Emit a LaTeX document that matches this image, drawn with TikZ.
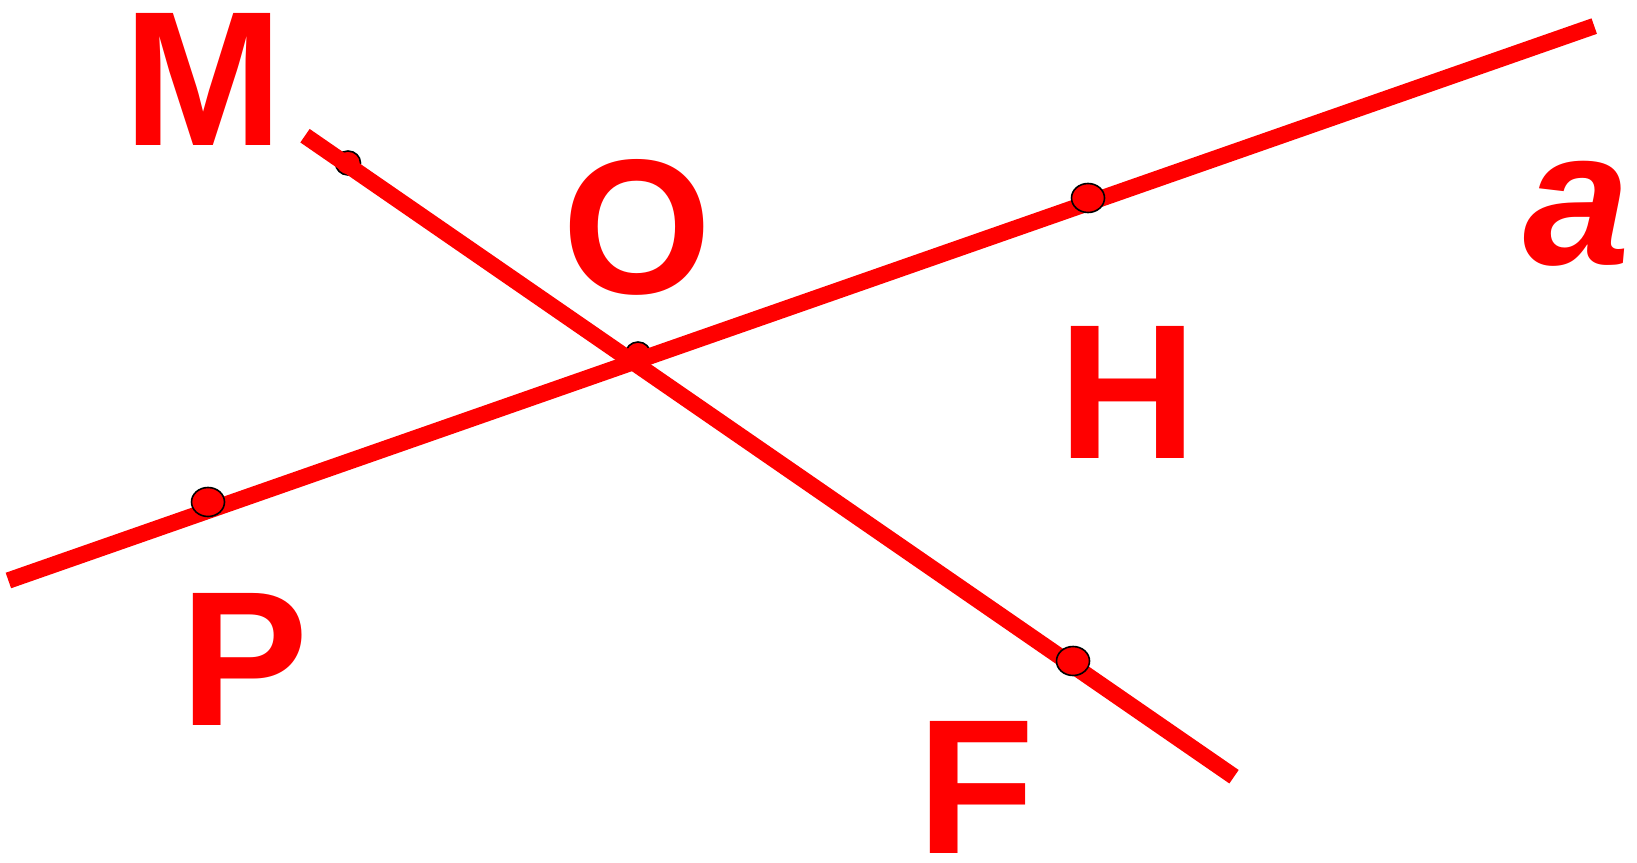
\documentclass[tikz,border=0pt]{standalone}
\usepackage{fontspec}
\setmainfont{Liberation Sans}
\usetikzlibrary{shapes.geometric}
\begin{document}
\begin{tikzpicture}[x=0.5pt,y=-0.5pt,
  redline/.style={draw=red,line width=8.2pt},
  pt/.style={ellipse,draw=black,fill=red,line width=0.8pt,minimum width=16.5pt,minimum height=14.5pt,inner sep=0pt},
  smallpt/.style={ellipse,draw=black,fill=red,line width=0.8pt,minimum width=12.5pt,minimum height=12pt,inner sep=0pt},
  lbl/.style={text=red,inner sep=0pt,font=\fontsize{96}{96}\selectfont\bfseries},
  ilbl/.style={text=red,inner sep=0pt,font=\fontsize{96}{96}\selectfont\bfseries\itshape}]
\useasboundingbox (0,0) rectangle (1637,862);
% line ends
\coordinate (A1) at (8.4,580.5);
\coordinate (A2) at (1594.2,26.1);
\coordinate (F1) at (305,135.7);
\coordinate (F2) at (1234,776.7);
% points under the lines
\node[smallpt] (pM) at (348,163) {};
\node[smallpt] (pO) at (638,354) {};
% lines
\draw[redline] (A1) -- (A2);
\draw[redline] (F1) -- (F2);
% points over the lines
\node[pt] (pH) at (1088,198) {};
\node[pt] (pP) at (208,502) {};
\node[pt] (pF) at (1073,661) {};
% labels
\node[lbl] (M) at (203,79) {M};
\node[lbl] (O) at (637.5,227.6) {O};
\node[lbl] (H) at (1128,392) {H};
\node[ilbl] (a) at (1577,213.4) {a};
\node[lbl] (P) at (245,659.4) {P};
\node[lbl] (F) at (976,787.5) {F};
\end{tikzpicture}
\end{document}
